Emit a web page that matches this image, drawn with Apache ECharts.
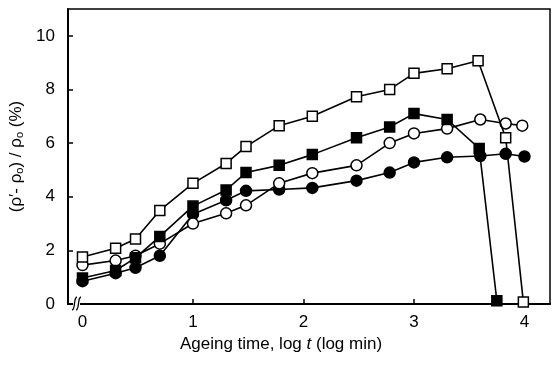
<!DOCTYPE html>
<html>
<head>
<meta charset="utf-8">
<script src="https://cdn.jsdelivr.net/npm/echarts@6/dist/echarts.min.js"></script>
<style>
html,body{margin:0;padding:0;background:#fff;}
#c{width:555px;height:365px;}
</style>
</head>
<body>
<div id="c"></div>
<script>
// log t (log min) positions and (rho'-rho0)/rho0 (%) values
var xOpenSquare   = [0, 0.3, 0.48, 0.7, 1.0, 1.3, 1.48, 1.78, 2.08, 2.48, 2.78, 3.0, 3.3, 3.58, 3.83, 3.99];
var yOpenSquare   = [1.75, 2.08, 2.42, 3.49, 4.5, 5.24, 5.87, 6.65, 7.0, 7.73, 8.0, 8.6, 8.77, 9.07, 6.2, 0.07];

var xFilledSquare = [0, 0.3, 0.48, 0.7, 1.0, 1.3, 1.48, 1.78, 2.08, 2.48, 2.78, 3.0, 3.3, 3.59, 3.75];
var yFilledSquare = [0.97, 1.25, 1.72, 2.52, 3.65, 4.25, 4.9, 5.17, 5.57, 6.2, 6.6, 7.1, 6.88, 5.8, 0.12];

var xOpenCircle   = [0, 0.3, 0.48, 0.7, 1.0, 1.3, 1.48, 1.78, 2.08, 2.48, 2.78, 3.0, 3.3, 3.6, 3.83, 3.98];
var yOpenCircle   = [1.45, 1.62, 1.8, 2.25, 3.0, 3.38, 3.68, 4.5, 4.88, 5.17, 6.0, 6.36, 6.54, 6.88, 6.73, 6.65];

var xFilledCircle = [0, 0.3, 0.48, 0.7, 1.0, 1.3, 1.48, 1.78, 2.08, 2.48, 2.78, 3.0, 3.3, 3.6, 3.83, 4.0];
var yFilledCircle = [0.85, 1.15, 1.35, 1.8, 3.35, 3.87, 4.22, 4.27, 4.33, 4.6, 4.9, 5.28, 5.47, 5.52, 5.6, 5.5];

var xTicks = [0, 1, 2, 3, 4];
var yTicks = [0, 2, 4, 6, 8, 10];

function pairs(xs, ys){ return xs.map(function(x,i){ return [x, ys[i]]; }); }

var FONT = 'Liberation Sans';
var chart = echarts.init(document.getElementById('c'), null, {renderer:'canvas'});

function mk(name, xs, ys, symbol, size, filled, z){
  return {
    name: name, type: 'line', data: pairs(xs, ys), z: z,
    symbol: symbol, symbolSize: size, showAllSymbol: true,
    lineStyle: {color: '#000', width: 1.6},
    itemStyle: {color: filled ? '#000' : '#fff', borderColor: '#000', borderWidth: 1.5},
    emphasis: {disabled: true}, animation: false
  };
}

chart.setOption({
  animation: false,
  backgroundColor: '#fff',
  grid: {left: 68, right: 5, top: 9, bottom: 61, show: true, borderColor: '#000', borderWidth: 1.5, backgroundColor: 'transparent'},
  xAxis: {
    type: 'value', min: -0.131, max: 4.231,
    axisLine: {show: true, onZero: false, lineStyle: {color: '#000', width: 2}},
    axisTick: {show: true, inside: true, length: 5, lineStyle: {color: '#000', width: 1.5},
      customValues: xTicks.slice(1, 4)},
    axisLabel: {color: '#000', fontFamily: FONT, fontSize: 17, margin: 10,
      customValues: xTicks, formatter: function(v){ return String(Math.round(v)); }},
    splitLine: {show: false},
    name: 'Ageing time, log {i|t} (log min)',
    nameLocation: 'middle', nameGap: 32,
    nameTextStyle: {color: '#000', fontFamily: FONT, fontSize: 17, padding: [0, 56, 0, 0],
      rich: {i: {fontStyle: 'italic', fontFamily: FONT, fontSize: 17, color: '#000'}}}
  },
  yAxis: {
    type: 'value', min: 0, max: 11,
    axisLine: {show: true, onZero: false, lineStyle: {color: '#000', width: 2}},
    axisTick: {show: true, inside: true, length: 5, lineStyle: {color: '#000', width: 1.5},
      customValues: yTicks},
    axisLabel: {color: '#000', fontFamily: FONT, fontSize: 17, margin: 13,
      customValues: yTicks, formatter: function(v){ return String(Math.round(v)); }},
    splitLine: {show: false},
    name: '(ρ\u2032- ρ{s|o}) / ρ{s|o} (%)',
    nameLocation: 'middle', nameGap: 35, nameRotate: 90,
    nameTextStyle: {color: '#000', fontFamily: FONT, fontSize: 17,
      rich: {s: {fontFamily: FONT, fontSize: 11, color: '#000', verticalAlign: 'bottom', padding: [6, 0, 0, 0]}}}
  },
  series: [
    mk('filledCircle', xFilledCircle, yFilledCircle, 'circle', 11, true, 2),
    mk('openCircle', xOpenCircle, yOpenCircle, 'circle', 11, false, 3),
    mk('filledSquare', xFilledSquare, yFilledSquare, 'rect', 10, true, 4),
    mk('openSquare', xOpenSquare, yOpenSquare, 'rect', 10, false, 5)
  ],
  graphic: [
    {type: 'rect', shape: {x: 73, y: 300, width: 7, height: 8}, style: {fill: '#fff'}, z: 100},
    {type: 'bezierCurve', shape: {x1: 72, y1: 310, x2: 77, y2: 297, cpx1: 76, cpy1: 309, cpx2: 73, cpy2: 298}, style: {stroke: '#000', lineWidth: 1.3, fill: null}, z: 101},
    {type: 'bezierCurve', shape: {x1: 76, y1: 310, x2: 81, y2: 297, cpx1: 80, cpy1: 309, cpx2: 77, cpy2: 298}, style: {stroke: '#000', lineWidth: 1.3, fill: null}, z: 101}
  ]
});
</script>
</body>
</html>
